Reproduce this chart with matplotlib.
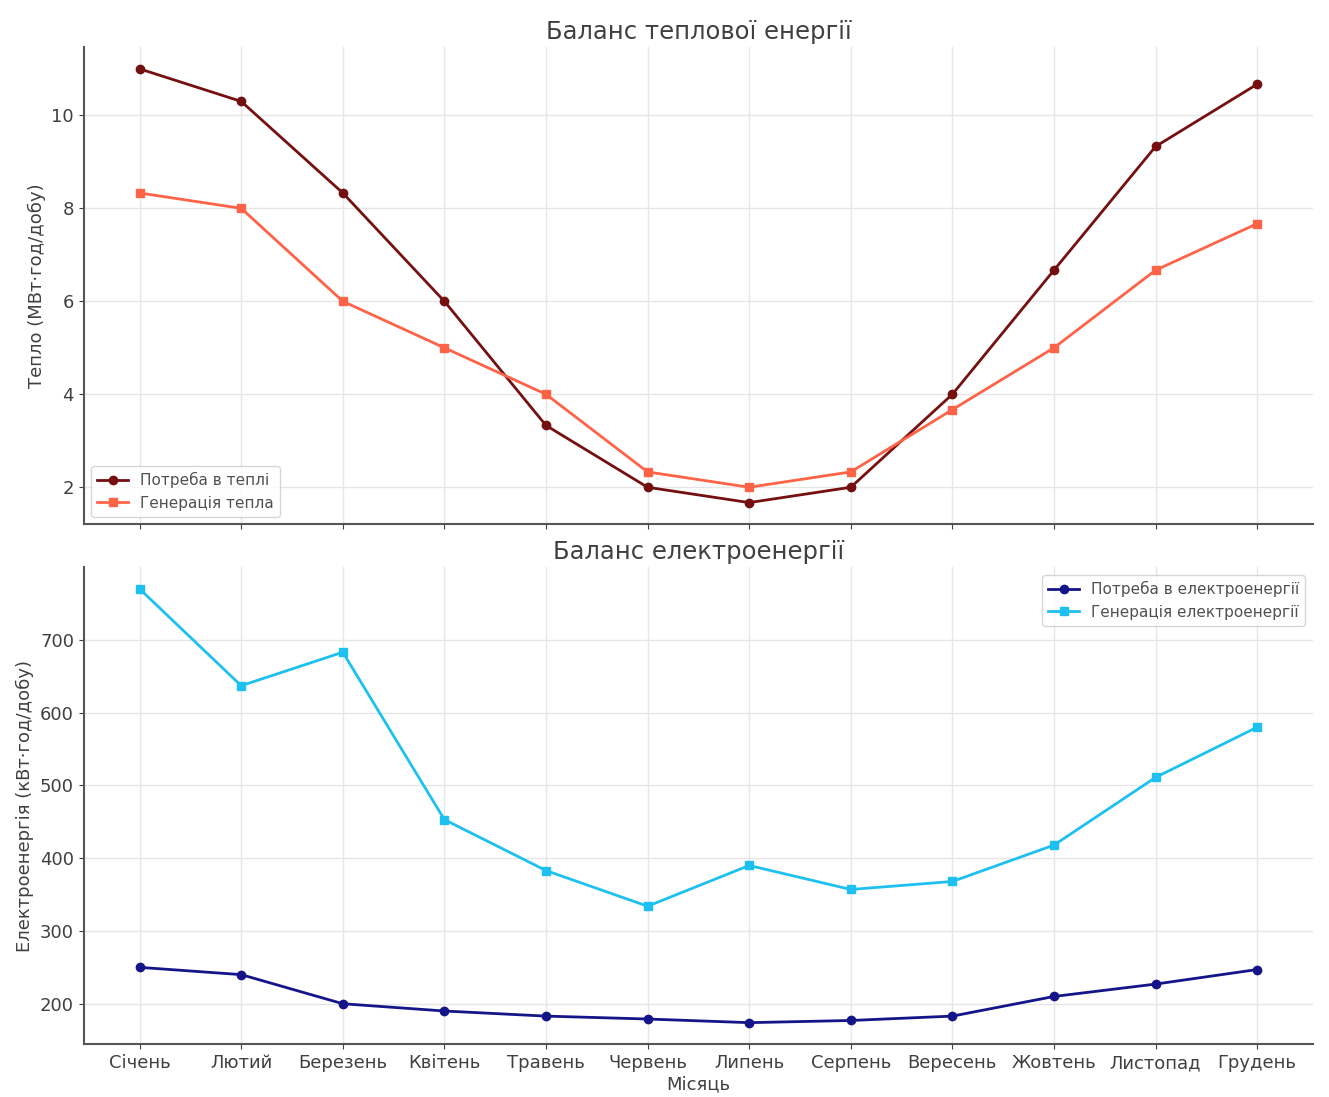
import matplotlib
matplotlib.use('Agg')
import matplotlib.pyplot as plt

months = ['Січень', 'Лютий', 'Березень', 'Квітень', 'Травень', 'Червень',
          'Липень', 'Серпень', 'Вересень', 'Жовтень', 'Листопад', 'Грудень']

heat_demand = [11.0, 10.3, 8.33, 6.0, 3.33, 2.0, 1.67, 2.0, 4.0, 6.67, 9.33, 10.67]
heat_gen = [8.33, 8.0, 6.0, 5.0, 4.0, 2.33, 2.0, 2.33, 3.67, 5.0, 6.67, 7.67]

elec_demand = [250, 240, 200, 190, 183, 179, 174, 177, 183, 210, 227, 247]
elec_gen = [770, 637, 683, 453, 383, 334, 390, 357, 368, 418, 511, 580]

plt.rcParams['font.family'] = ['DejaVu Sans']

fig, (ax1, ax2) = plt.subplots(2, 1, figsize=(13.29, 10.97), dpi=100, sharex=True)
fig.subplots_adjust(left=0.063, right=0.988, top=0.957, bottom=0.048, hspace=0.09)

x = range(len(months))

ax1.plot(x, heat_demand, marker='o', color='#761010', linewidth=2, markersize=6, label='Потреба в теплі')
ax1.plot(x, heat_gen, marker='s', color='#ff6347', linewidth=2, markersize=6, label='Генерація тепла')
ax1.set_title('Баланс теплової енергії', fontsize=17.5, color='#404040')
ax1.set_ylabel('Тепло (МВт·год/добу)', fontsize=13, color='#404040')
ax1.set_yticks([2, 4, 6, 8, 10])
ax1.legend(loc='lower left', fontsize=11, labelcolor='#505050')

ax2.plot(x, elec_demand, marker='o', color='#15158a', linewidth=2, markersize=6, label='Потреба в електроенергії')
ax2.plot(x, elec_gen, marker='s', color='#1ec0f0', linewidth=2, markersize=6, label='Генерація електроенергії')
ax2.set_title('Баланс електроенергії', fontsize=17.5, color='#404040')
ax2.set_ylabel('Електроенергія (кВт·год/добу)', fontsize=13, color='#404040')
ax2.set_xlabel('Місяць', fontsize=13, color='#404040', labelpad=2)
ax2.set_yticks([200, 300, 400, 500, 600, 700])
ax2.set_xticks(list(x))
ax2.set_xticklabels(months)
ax2.legend(loc='upper right', fontsize=11, labelcolor='#505050')

for ax in (ax1, ax2):
    ax.grid(True, color='#e6e6e6', linewidth=1)
    ax.spines['top'].set_visible(False)
    ax.spines['right'].set_visible(False)
    ax.spines['left'].set_color('#555555')
    ax.spines['bottom'].set_color('#555555')
    ax.spines['left'].set_linewidth(1.5)
    ax.spines['bottom'].set_linewidth(1.5)
    ax.tick_params(labelsize=13, colors='#404040')

plt.savefig('out.png', dpi=100)
